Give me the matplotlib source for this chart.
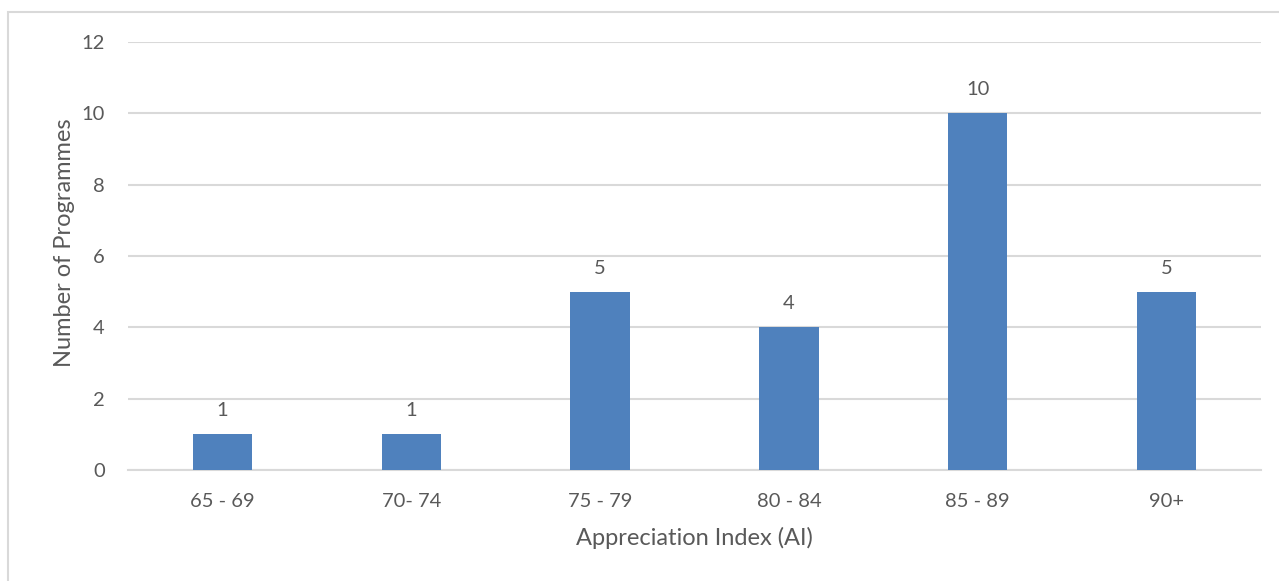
import matplotlib
matplotlib.use("Agg")
import matplotlib.pyplot as plt
from matplotlib.patches import Rectangle

categories = ["65 - 69", "70- 74", "75 - 79", "80 - 84", "85 - 89", "90+"]
programmes = [1, 1, 5, 4, 10, 5]
y_ticks = [0, 2, 4, 6, 8, 10, 12]

plt.rcParams['font.family'] = ['Lato', 'DejaVu Sans']
text_color = "#595959"
grid_color = "#D9D9D9"
bar_color = "#4F81BD"

W, H = 1279, 581
PX = 72 / 100  # points per pixel at 100 dpi
fig = plt.figure(figsize=(W / 100, H / 100), dpi=100)
fig.patch.set_facecolor("white")

# chart-area border (runs off the right and bottom edges)
fig.patches.append(Rectangle((8 / W, -0.1), 1.2, (H - 12) / H + 0.1,
                             transform=fig.transFigure, fill=False,
                             edgecolor=grid_color, linewidth=1.5))

ax = fig.add_axes([128 / W, (H - 470) / H, (1261 - 128) / W, (470 - 42) / H])
x = range(len(categories))
bars = ax.bar(x, programmes, width=0.315, color=bar_color, zorder=3)

ax.set_xlim(-0.5, len(categories) - 0.5)
ax.set_ylim(0, 12)
ax.set_yticks(y_ticks)
ax.set_xticks(list(x))
ax.set_xticklabels(categories)
ax.yaxis.grid(True, color=grid_color, linewidth=1.5, zorder=0)
ax.set_axisbelow(True)
for s in ["top", "right", "left"]:
    ax.spines[s].set_visible(False)
ax.spines["bottom"].set_color(grid_color)
ax.spines["bottom"].set_linewidth(1.5)
ax.tick_params(axis="both", length=0, labelsize=14.5, colors=text_color)
ax.tick_params(axis="y", pad=23 * PX)
ax.tick_params(axis="x", pad=23 * PX)

for rect, v in zip(bars, programmes):
    ax.annotate(str(v), (rect.get_x() + rect.get_width() / 2, v),
                xytext=(0, 18 * PX), textcoords="offset points",
                ha="center", va="baseline", fontsize=14.5, color=text_color)

fig.text(694.5 / W, (H - 545) / H, "Appreciation Index (AI)", fontsize=17,
         color=text_color, ha="center", va="baseline")
fig.text(71 / W, (H - 243) / H, "Number of Programmes", fontsize=17,
         color=text_color, ha="center", va="baseline", rotation=90,
         rotation_mode="anchor")

fig.savefig("out.png", dpi=100, facecolor="white")
